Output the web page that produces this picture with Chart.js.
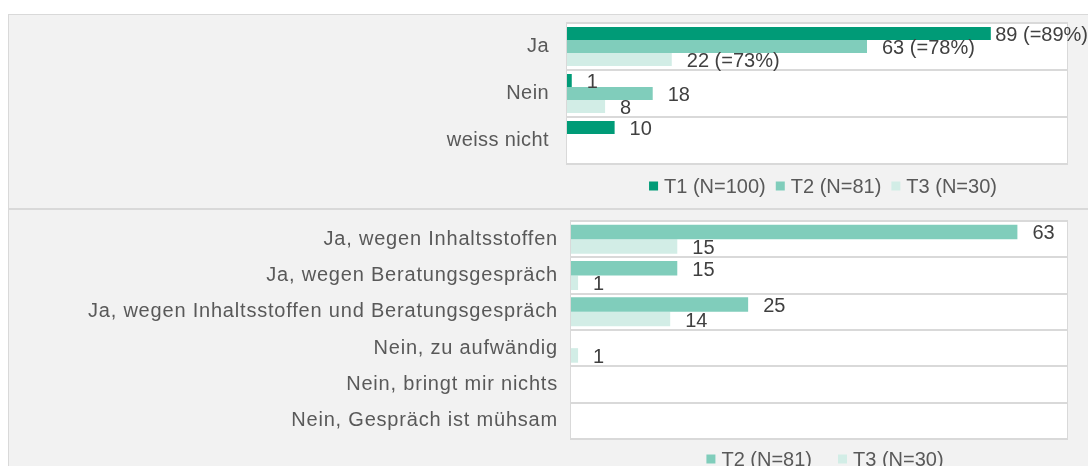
<!DOCTYPE html>
<html>
<head>
<meta charset="utf-8">
<script src="https://cdn.jsdelivr.net/npm/chart.js@4"></script>
<style>
  body { margin: 0; background: #fff; width: 1088px; height: 466px; overflow: hidden; position: relative; }
  .panel { position: absolute; left: 8px; width: 1090px; background: #f2f2f2; border: 1px solid #d9d9d9; box-sizing: border-box; }
  #p1 { top: 14px; height: 195px; }
  #p2 { top: 208px; height: 262px; border-top: 2px solid #d9d9d9; }
  canvas { position: absolute; left: 0; top: 0; }
</style>
</head>
<body>
<div class="panel" id="p1"><canvas id="chart1" width="1080" height="194"></canvas></div>
<div class="panel" id="p2"><canvas id="chart2" width="1080" height="258"></canvas></div>
<script>
// Data

var topCategories = ["Ja", "Nein", "weiss nicht"];
var t1Top = [89, 1, 10];
var t2Top = [63, 18, 0];
var t3Top = [22, 8, 0];

var bottomCategories = [
    "Ja, wegen Inhaltsstoffen",
    "Ja, wegen Beratungsgespräch",
    "Ja, wegen Inhaltsstoffen und Beratungsgespräch",
    "Nein, zu aufwändig",
    "Nein, bringt mir nichts",
    "Nein, Gespräch ist mühsam"
];
var t2Bottom = [63, 15, 25, 0, 0, 0];
var t3Bottom = [15, 1, 14, 1, 0, 0];

var labelsTop = ["T1 (N=100)", "T2 (N=81)", "T3 (N=30)"];
var sizesTop = [100, 81, 30];
var labelsBottom = ["T2 (N=81)", "T3 (N=30)"];

var colorT1 = '#009b77';
var colorT2 = '#80cdbb';
var colorT3 = '#d2ede6';
var fontFamily = "'Liberation Sans', Arial, sans-serif";

// Plugins

var plotBackground = {
    id: 'plotBackground',
    beforeDraw: function (chart, args, opts) {
        var a = chart.chartArea;
        var c = chart.ctx;
        c.save();
        c.fillStyle = '#ffffff';
        c.fillRect(a.left, a.top, a.right - a.left, a.bottom - a.top);
        c.strokeStyle = '#d9d9d9';
        c.lineWidth = 1;
        c.strokeRect(a.left - 0.5, a.top - 0.5, a.right - a.left + 1, a.bottom - a.top + 1);
        c.restore();
        // spacing for the category labels
        c.letterSpacing = (opts.spacing || 0) + 'px';
    },
    beforeDatasetsDraw: function (chart) {
        chart.ctx.letterSpacing = '0px';
    }
};

var valueLabels = {
    id: 'valueLabels',
    afterDatasetsDraw: function (chart, args, opts) {
        var c = chart.ctx;
        c.save();
        c.font = '20px ' + fontFamily;
        c.fillStyle = '#404040';
        c.textAlign = 'left';
        c.textBaseline = 'middle';
        chart.data.datasets.forEach(function (ds, i) {
            var meta = chart.getDatasetMeta(i);
            meta.data.forEach(function (bar, j) {
                var v = ds.data[j];
                if (!v) return;
                var text = String(v);
                if (opts.sizes && j === 0) {
                    text += ' (=' + Math.round(v / opts.sizes[i] * 100) + '%)';
                }
                var w = c.measureText(text).width;
                var x = Math.min(bar.x + 15, chart.width - w - 1);
                c.fillText(text, x, bar.y + 2);
            });
        });
        c.restore();
    }
};

var bottomLegend = {
    id: 'bottomLegend',
    afterDraw: function (chart, args, opts) {
        var c = chart.ctx;
        c.save();
        c.font = '20px ' + fontFamily;
        c.textBaseline = 'middle';
        var items = chart.data.datasets.map(function (ds) {
            return { text: ds.label, color: ds.backgroundColor, w: 15 + c.measureText(ds.label).width };
        });
        var total = items.reduce(function (s, it) { return s + it.w; }, 0) + opts.gap * (items.length - 1);
        var a = chart.chartArea;
        var x = (a.left + a.right) / 2 + opts.shift - total / 2;
        items.forEach(function (it) {
            c.fillStyle = it.color;
            c.fillRect(x, opts.y - 4.5, 9, 9);
            c.fillStyle = '#595959';
            c.fillText(it.text, x + 15, opts.y + 1);
            x += it.w + opts.gap;
        });
        c.restore();
    }
};

function makeOptions(max, padding, tickPad, catPct, extra) {
    return {
        indexAxis: 'y',
        responsive: false,
        animation: false,
        layout: { padding: padding },
        datasets: { bar: { categoryPercentage: catPct, barPercentage: 1 } },
        scales: {
            x: { display: false, min: 0, max: max },
            y: {
                afterFit: function (axis) {
                    axis.width = padding.yWidth;
                    axis.paddingTop = 0;
                    axis.paddingBottom = 0;
                },
                grid: { offset: true, color: '#d9d9d9', lineWidth: 2, drawTicks: false },
                border: { display: false },
                ticks: { color: '#595959', padding: tickPad, font: { family: fontFamily, size: 20 } }
            }
        },
        plugins: Object.assign({ legend: { display: false }, tooltip: { enabled: false } }, extra)
    };
}

// Chart 1

new Chart(document.getElementById('chart1').getContext('2d'), {
    type: 'bar',
    data: {
        labels: topCategories,
        datasets: [
            { label: labelsTop[0], data: t1Top, backgroundColor: colorT1 },
            { label: labelsTop[1], data: t2Top, backgroundColor: colorT2 },
            { label: labelsTop[2], data: t3Top, backgroundColor: colorT3 }
        ]
    },
    options: makeOptions(105, { top: 8, right: 22, bottom: 45, left: 0, yWidth: 558 }, 18, 0.83, {
        plotBackground: { spacing: 0.4 },
        valueLabels: { sizes: sizesTop },
        bottomLegend: { y: 171, gap: 10, shift: 6 }
    }),
    plugins: [plotBackground, valueLabels, bottomLegend]
});

// Chart 2

new Chart(document.getElementById('chart2').getContext('2d'), {
    type: 'bar',
    data: {
        labels: bottomCategories,
        datasets: [
            { label: labelsBottom[0], data: t2Bottom, backgroundColor: colorT2 },
            { label: labelsBottom[1], data: t3Bottom, backgroundColor: colorT3 }
        ]
    },
    options: makeOptions(70, { top: 11, right: 22, bottom: 29, left: 0, yWidth: 562 }, 13, 0.8, {
        plotBackground: { spacing: 0.8 },
        valueLabels: {},
        bottomLegend: { y: 249, gap: 26, shift: 6 }
    }),
    plugins: [plotBackground, valueLabels, bottomLegend]
});
</script>
</body>
</html>
